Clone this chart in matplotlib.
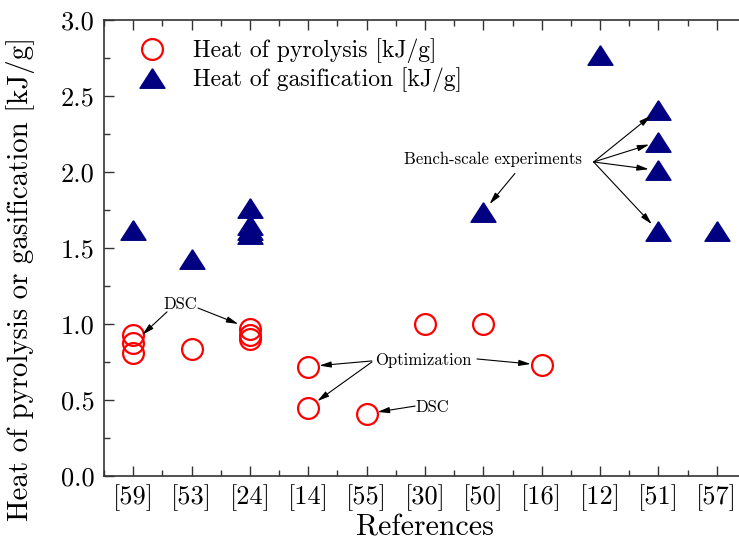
import numpy as np
import matplotlib
matplotlib.use("Agg")
import matplotlib.pyplot as plt
from matplotlib.ticker import MultipleLocator, FixedLocator

plt.rcParams["font.family"] = ["cmr10", "DejaVu Serif"]
plt.rcParams["axes.formatter.use_mathtext"] = True

# Reference labels along the x axis
references = ["[59]", "[53]", "[24]", "[14]", "[55]", "[30]", "[50]", "[16]", "[12]", "[51]", "[57]"]

# Heat of pyrolysis values [kJ/g], keyed by reference
pyro_refs = ["[59]", "[59]", "[59]", "[53]", "[24]", "[24]", "[24]",
             "[14]", "[14]", "[55]", "[30]", "[50]", "[16]"]
pyro_vals = [0.93, 0.873, 0.807, 0.835, 0.97, 0.93, 0.90,
             0.72, 0.45, 0.41, 1.00, 1.00, 0.73]

# Heat of gasification values [kJ/g], keyed by reference
gas_refs = ["[59]", "[53]", "[24]", "[24]", "[24]", "[24]",
            "[50]", "[12]", "[51]", "[51]", "[51]", "[51]", "[57]"]
gas_vals = [1.62, 1.43, 1.59, 1.62, 1.65, 1.76,
            1.74, 2.77, 2.41, 2.20, 2.01, 1.61, 1.61]

pos = {r: i for i, r in enumerate(references)}
px = np.array([pos[r] for r in pyro_refs])
gx = np.array([pos[r] for r in gas_refs])

fig = plt.figure(figsize=(7.39, 5.43), dpi=100)
ax = fig.add_axes([104 / 739, 67 / 543, 642 / 739, 456 / 543])

tri = [(0, 0.78), (-1, -0.78), (1, -0.78), (0, 0.78)]
ax.plot(px, pyro_vals, linestyle="none", marker="o", markersize=15,
        markerfacecolor="none", markeredgecolor="#ff0000", markeredgewidth=1.6,
        label="Heat of pyrolysis [kJ/g]", zorder=3)
ax.plot(gx, gas_vals, linestyle="none", marker=tri, markersize=18,
        markerfacecolor="#000080", markeredgecolor="#000080",
        label="Heat of gasification [kJ/g]", zorder=3)

ax.set_xlim(-0.5, 10.5)
ax.set_ylim(0, 3.0)
ax.set_xticks(range(len(references)))
ax.set_xticklabels(references)
ax.xaxis.set_minor_locator(FixedLocator(np.arange(-0.5, 11, 1.0)))
ax.yaxis.set_major_locator(MultipleLocator(0.5))
ax.yaxis.set_minor_locator(MultipleLocator(0.25))
ax.yaxis.set_major_formatter(matplotlib.ticker.FormatStrFormatter("%.1f"))

ax.tick_params(which="both", direction="in", top=True, right=False,
               labelsize=19, width=1.0, colors="#333333", labelcolor="black")
ax.tick_params(which="major", length=7)
ax.tick_params(which="minor", length=4)
ax.tick_params(axis="x", which="major", pad=6)
ax.tick_params(axis="y", which="major", pad=7)
for s in ax.spines.values():
    s.set_linewidth(1.2)
    s.set_color("#333333")
ax.spines["right"].set_visible(False)

ax.set_xlabel("References", fontsize=21.5, labelpad=2)
ax.set_ylabel("Heat of pyrolysis or gasification [kJ/g]", fontsize=20.8)
ax.yaxis.set_label_coords(-0.108, 0.432)

leg = ax.legend(loc="upper left", frameon=False, fontsize=17, numpoints=1,
                handlelength=1.5, handletextpad=1.0, labelspacing=0.15,
                bbox_to_anchor=(0.014, 1.006))

arrow_kw = dict(arrowstyle="-|>,head_length=0.7,head_width=0.18",
                color="black", lw=0.8, shrinkA=0)
fs_note = 12

def note(text, tx, ty, starts, targets, shrink):
    ax.text(tx, ty, text, fontsize=fs_note, ha="center", va="center", zorder=4)
    for (sx, sy), (ref, val) in zip(starts, targets):
        ax.annotate("", xy=(pos[ref], val), xytext=(sx, sy),
                    arrowprops=dict(arrow_kw, shrinkB=shrink), zorder=4)

note("DSC", 0.80, 1.13,
     [(0.58, 1.08), (1.11, 1.105)],
     [("[59]", 0.873), ("[24]", 0.97)], 9)
note("Optimization", 4.98, 0.763,
     [(4.09, 0.757), (4.09, 0.75), (5.89, 0.77)],
     [("[14]", 0.72), ("[14]", 0.45), ("[16]", 0.73)], 8)
note("DSC", 5.12, 0.454,
     [(4.83, 0.46)],
     [("[55]", 0.41)], 8)
note("Bench-scale experiments", 6.16, 2.08,
     [(7.89, 2.066), (7.89, 2.066), (7.89, 2.066), (7.89, 2.066), (6.54, 1.99)],
     [("[51]", 2.41), ("[51]", 2.20), ("[51]", 2.01), ("[51]", 1.61), ("[50]", 1.74)], 7)

fig.savefig("out.png", dpi=100)
